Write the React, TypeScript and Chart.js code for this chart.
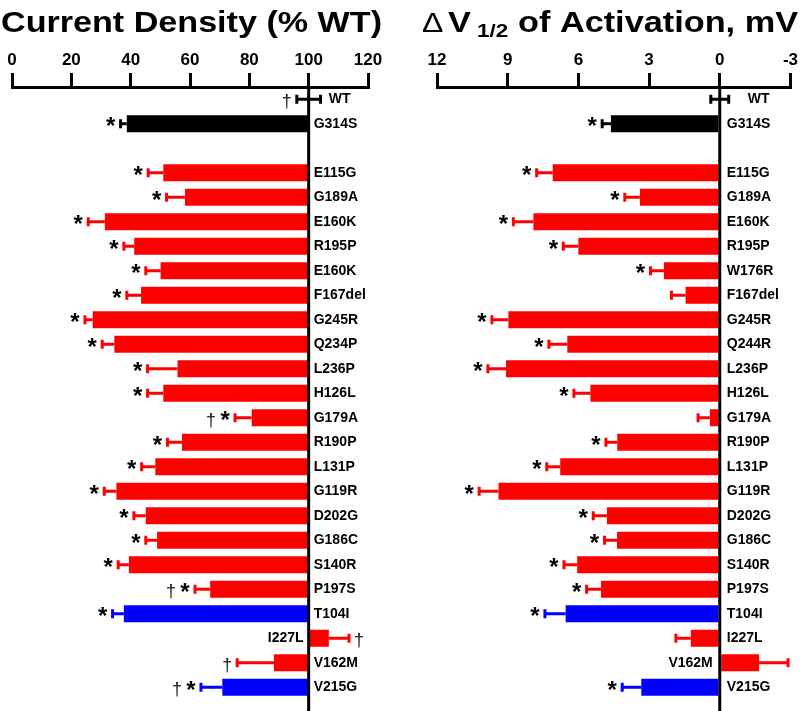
import React, { useEffect, useRef } from "react";
import { Chart, registerables } from "chart.js";

Chart.register(...registerables);

const FONT = '"Liberation Sans", Arial, Helvetica, sans-serif';

// ---------- data ----------
const densityLabels = ["WT", "G314S", "", "E115G", "G189A", "E160K", "R195P", "E160K", "F167del", "G245R", "Q234P", "L236P", "H126L", "G179A", "R190P", "L131P", "G119R", "D202G", "G186C", "S140R", "P197S", "T104I", "I227L", "V162M", "V215G"];
const activationLabels = ["WT", "G314S", "", "E115G", "G189A", "E160K", "R195P", "W176R", "F167del", "G245R", "Q244R", "L236P", "H126L", "G179A", "R190P", "L131P", "G119R", "D202G", "G186C", "S140R", "P197S", "T104I", "I227L", "V162M", "V215G"];

const densityValues = [100, 38.7, null, 51.0, 58.3, 31.3, 41.2, 50.1, 43.5, 27.2, 34.5, 55.8, 51.0, 80.8, 57.3, 48.3, 35.2, 45.1, 48.9, 39.4, 66.8, 37.7, 106.8, 88.3, 70.9];
const densityErrors = [4.0, 2.1, null, 5.1, 6.2, 5.6, 3.5, 5.0, 4.8, 2.6, 4.1, 10.1, 5.3, 5.6, 4.9, 4.6, 4.1, 4.0, 3.8, 3.6, 5.1, 3.8, 6.8, 12.4, 7.2];
const densityMarks = ["†", "*", "", "*", "*", "*", "*", "*", "*", "*", "*", "*", "*", "†*", "*", "*", "*", "*", "*", "*", "†*", "*", "†", "†", "†*"];

const activationValues = [0, 4.62, null, 7.09, 3.39, 7.91, 6.0, 2.37, 1.45, 8.97, 6.47, 9.07, 5.49, 0.42, 4.35, 6.77, 9.39, 4.79, 4.36, 6.05, 5.04, 6.54, 1.23, -1.67, 3.33];
const activationErrors = [0.38, 0.37, null, 0.68, 0.64, 0.85, 0.64, 0.57, 0.6, 0.7, 0.78, 0.77, 0.7, 0.5, 0.48, 0.57, 0.82, 0.58, 0.53, 0.56, 0.61, 0.88, 0.63, 1.23, 0.81];
const activationMarks = ["", "*", "", "*", "*", "*", "*", "*", "", "*", "*", "*", "*", "", "*", "*", "*", "*", "*", "*", "*", "*", "", "", "*"];

const rowColors = ["black", "black", "", "red", "red", "red", "red", "red", "red", "red", "red", "red", "red", "red", "red", "red", "red", "red", "red", "red", "red", "blue", "red", "red", "blue"];

const densityTicks = [0, 20, 40, 60, 80, 100, 120];
const activationTicks = [12, 9, 6, 3, 0, -3];

const COLORS: Record<string, string> = { black: "#000000", red: "#FF0000", blue: "#0000FF" };

type PanelCfg = {
  name: string;
  labels: string[];
  values: (number | null)[];
  errors: (number | null)[];
  marks: string[];
  ticks: number[];
  base: number;
  reverse: boolean;
  padLeft: number;
  padRight: number;
  labelGap: number;
  baseLabelOffset: number;
  drawTitle: (ctx: CanvasRenderingContext2D) => void;
};

function drawScaled(ctx: CanvasRenderingContext2D, text: string, x: number, y: number, sx: number) {
  ctx.save();
  ctx.translate(x, y);
  ctx.scale(sx, 1);
  ctx.fillText(text, 0, 0);
  ctx.restore();
}

function drawMark(ctx: CanvasRenderingContext2D, ch: string, cx: number, cy: number) {
  ctx.save();
  ctx.fillStyle = "#000";
  ctx.textAlign = "center";
  ctx.textBaseline = "alphabetic";
  if (ch === "*") {
    ctx.font = `bold 24px ${FONT}`;
    ctx.fillText("*", cx, cy + 10.5);
  } else {
    ctx.font = `18px ${FONT}`;
    ctx.fillStyle = "#111";
    ctx.fillText(ch, cx, cy + 8);
  }
  ctx.restore();
}

function makeOverlay(cfg: PanelCfg) {
  return {
    id: "overlay_" + cfg.name,
    afterDatasetsDraw(chart: any) {
      const ctx: CanvasRenderingContext2D = chart.ctx;
      const xs = chart.scales.x;
      const ys = chart.scales.y;
      const area = chart.chartArea;
      const basePx = xs.getPixelForValue(cfg.base);
      ctx.save();
      // zero / reference line
      ctx.strokeStyle = "#000";
      ctx.lineWidth = 3;
      ctx.beginPath();
      ctx.moveTo(basePx, area.top);
      ctx.lineTo(basePx, chart.height);
      ctx.stroke();

      cfg.labels.forEach((lab, i) => {
        const v = cfg.values[i];
        if (v == null) return;
        const y = ys.getPixelForValue(i);
        const e = cfg.errors[i] ?? 0;
        const color = COLORS[rowColors[i]] || "#000";
        const vPx = xs.getPixelForValue(v);
        const isBase = v === cfg.base;
        let anchor: number;
        let dir: number;
        ctx.strokeStyle = color;
        ctx.lineWidth = 3;
        const cap = 4.5;
        if (isBase) {
          const p1 = xs.getPixelForValue(v - e);
          const p2 = xs.getPixelForValue(v + e);
          const lo = Math.min(p1, p2);
          const hi = Math.max(p1, p2);
          ctx.beginPath();
          ctx.moveTo(lo, y);
          ctx.lineTo(hi, y);
          ctx.moveTo(lo, y - cap);
          ctx.lineTo(lo, y + cap);
          ctx.moveTo(hi, y - cap);
          ctx.lineTo(hi, y + cap);
          ctx.stroke();
          anchor = lo;
          dir = -1;
        } else {
          const sg = Math.sign(v - cfg.base);
          const pEnd = xs.getPixelForValue(v + sg * e);
          ctx.beginPath();
          ctx.moveTo(vPx, y);
          ctx.lineTo(pEnd, y);
          ctx.moveTo(pEnd, y - cap);
          ctx.lineTo(pEnd, y + cap);
          ctx.stroke();
          anchor = pEnd;
          dir = pEnd > vPx ? 1 : -1;
        }
        // significance marks
        const chars = Array.from(cfg.marks[i] || "").filter((c) => c !== " ");
        const ordered = dir < 0 ? chars.slice().reverse() : chars;
        ordered.forEach((ch, k) => {
          drawMark(ctx, ch, anchor + dir * (10 + 14 * k), y);
        });
        // category label
        ctx.fillStyle = "#000";
        ctx.font = `bold 14px ${FONT}`;
        ctx.textBaseline = "middle";
        if (isBase) {
          ctx.textAlign = "left";
          ctx.fillText(lab, basePx + cfg.baseLabelOffset, y);
        } else if (vPx < basePx) {
          ctx.textAlign = "left";
          ctx.fillText(lab, basePx + cfg.labelGap, y);
        } else {
          ctx.textAlign = "right";
          ctx.fillText(lab, basePx - cfg.labelGap, y);
        }
      });
      ctx.restore();
    },
    afterDraw(chart: any) {
      const ctx: CanvasRenderingContext2D = chart.ctx;
      ctx.save();
      ctx.fillStyle = "#000";
      ctx.textBaseline = "alphabetic";
      ctx.textAlign = "left";
      cfg.drawTitle(ctx);
      ctx.restore();
    },
  };
}

const densityCfg: PanelCfg = {
  name: "density",
  labels: densityLabels,
  values: densityValues,
  errors: densityErrors,
  marks: densityMarks,
  ticks: densityTicks,
  base: 100,
  reverse: false,
  padLeft: 12,
  padRight: 32,
  labelGap: 5,
  baseLabelOffset: 20,
  drawTitle: (ctx) => {
    ctx.font = `bold 29px ${FONT}`;
    const t = "Current Density (% WT)";
    const w = ctx.measureText(t).width;
    drawScaled(ctx, t, 1, 31.5, 381 / w);
  },
};

const activationCfg: PanelCfg = {
  name: "activation",
  labels: activationLabels,
  values: activationValues,
  errors: activationErrors,
  marks: activationMarks,
  ticks: activationTicks,
  base: 0,
  reverse: true,
  padLeft: 37,
  padRight: 9,
  labelGap: 7,
  baseLabelOffset: 28,
  drawTitle: (ctx) => {
    ctx.font = `bold 29px ${FONT}`;
    const rest = "of Activation, mV";
    const w = ctx.measureText(rest).width;
    const sx = 280 / w;
    drawScaled(ctx, rest, 118, 31.5, sx);
    drawScaled(ctx, "V", 48, 31.5, sx);
    ctx.font = `27px ${FONT}`;
    drawScaled(ctx, "\u0394", 22, 31.5, sx);
    ctx.font = `bold 19px ${FONT}`;
    drawScaled(ctx, "1/2", 77, 37, sx);
  },
};

function Panel({ cfg }: { cfg: PanelCfg }) {
  const ref = useRef<HTMLCanvasElement>(null);
  useEffect(() => {
    if (!ref.current) return;
    const min = Math.min(...cfg.ticks);
    const max = Math.max(...cfg.ticks);
    const step = Math.abs(cfg.ticks[1] - cfg.ticks[0]);
    const chart = new Chart(ref.current, {
      type: "bar",
      data: {
        labels: cfg.labels,
        datasets: [
          {
            data: cfg.values.map((v) => (v == null || v === cfg.base ? null : [cfg.base, v])) as any,
            backgroundColor: rowColors.map((c) => COLORS[c] || "rgba(0,0,0,0)"),
            borderWidth: 0,
            categoryPercentage: 1,
            barPercentage: 0.69,
          },
        ],
      },
      options: {
        indexAxis: "y",
        responsive: false,
        maintainAspectRatio: false,
        animation: false,
        layout: { padding: { left: cfg.padLeft, right: cfg.padRight, top: 0, bottom: 11.5 } },
        plugins: { legend: { display: false }, tooltip: { enabled: false }, title: { display: false } },
        scales: {
          x: {
            type: "linear",
            position: "top",
            min,
            max,
            reverse: cfg.reverse,
            afterFit: (s: any) => {
              s.height = 87;
            },
            ticks: {
              stepSize: step,
              font: { family: FONT, size: 17, weight: "bold" },
              color: "#000",
              padding: 2,
              autoSkip: false,
              maxRotation: 0,
            },
            grid: {
              display: true,
              drawOnChartArea: false,
              drawTicks: true,
              tickLength: 14,
              tickWidth: 3,
              tickColor: "#000",
              color: "#000",
              lineWidth: 3,
            },
            border: { display: true, color: "#000", width: 3 },
          },
          y: { type: "category", display: false, offset: true, grid: { display: false } },
        },
      } as any,
      plugins: [makeOverlay(cfg)],
    });
    return () => chart.destroy();
  }, []);
  return <canvas ref={ref} width={400} height={711} style={{ display: "block", width: 400, height: 711 }} />;
}

export default function App() {
  return (
    <div style={{ position: "absolute", left: 0, top: 0, width: 800, height: 711, display: "flex", background: "#fff" }}>
      <Panel cfg={densityCfg} />
      <Panel cfg={activationCfg} />
    </div>
  );
}
